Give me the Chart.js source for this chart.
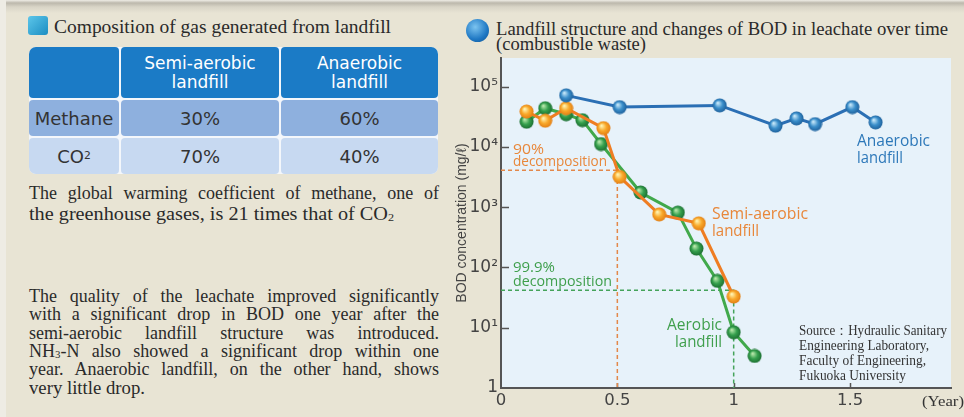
<!DOCTYPE html>
<html>
<head>
<meta charset="utf-8">
<script src="https://cdn.jsdelivr.net/npm/chart.js@4"></script>
<style>
  body { margin:0; width:964px; height:417px; overflow:hidden; background:#e8e4d4; position:relative; font-family:'DejaVu Sans', sans-serif; }
  .abs { position:absolute; white-space:nowrap; }
  .serif { font-family:'Liberation Serif', serif; color:#2a2a2a; }
  .fit { display:inline-block; transform-origin:0 50%; }
  .lab { font-family:'Open Sans', sans-serif; }
  .cell { position:absolute; border-radius:4px; display:flex; align-items:center; justify-content:center; text-align:center; }
  .jl { position:absolute; left:29px; width:410px; text-align:justify; text-align-last:justify; white-space:nowrap; }
  sub { font-size:60%; vertical-align:-1px; line-height:0; }
</style>
</head>
<body>
<!-- top shadow and left strip -->
<div class="abs" style="left:0;top:0;width:964px;height:13px;background:linear-gradient(#efede6 0px,#bcb8ac 3px,#d9d5c7 7px,#e8e4d4 13px);"></div>
<div class="abs" style="left:0;top:0;width:6px;height:417px;background:#eeece4;"></div>

<!-- left panel -->
<div class="abs" style="left:28px;top:16px;width:20px;height:19px;border-radius:3px;background:linear-gradient(135deg,#5cc6ea,#1b8dc2);"></div>
<div class="abs serif fit" data-w="337" style="left:54px;top:16px;font-size:19px;line-height:21px;">Composition of gas generated from landfill</div>

<div class="abs" style="left:29px;top:47px;width:409px;height:127px;background:#f4f7fb;border-radius:7px;">
  <div class="cell" style="left:0;top:0;width:90px;height:51px;background:#1b7bc6;border-top-left-radius:7px;"></div>
  <div class="cell" style="left:92px;top:0;width:158px;height:51px;background:#1b7bc6;color:#fff;font-size:17px;line-height:18.5px;">Semi-aerobic<br>landfill</div>
  <div class="cell" style="left:252px;top:0;width:157px;height:51px;background:#1b7bc6;color:#fff;font-size:17px;line-height:18.5px;border-top-right-radius:7px;">Anaerobic<br>landfill</div>
  <div class="cell" style="left:0;top:53px;width:90px;height:36px;background:#8eb0de;color:#333;font-size:18px;">Methane</div>
  <div class="cell" style="left:92px;top:53px;width:158px;height:36px;background:#8eb0de;color:#333;font-size:18px;">30%</div>
  <div class="cell" style="left:252px;top:53px;width:157px;height:36px;background:#8eb0de;color:#333;font-size:18px;">60%</div>
  <div class="cell" style="left:0;top:91px;width:90px;height:36px;background:#c7d9f1;color:#333;font-size:18px;border-bottom-left-radius:7px;">CO<sub>2</sub></div>
  <div class="cell" style="left:92px;top:91px;width:158px;height:36px;background:#c7d9f1;color:#333;font-size:18px;">70%</div>
  <div class="cell" style="left:252px;top:91px;width:157px;height:36px;background:#c7d9f1;color:#333;font-size:18px;border-bottom-right-radius:7px;">40%</div>
</div>

<div class="serif" style="font-size:18px;line-height:20px;">
  <div class="jl" style="top:183px;">The global warming coefficient of methane, one of</div>
  <div class="abs fit" data-w="365" style="left:29px;top:204px;">the greenhouse gases, is 21 times that of CO<sub>2</sub></div>
</div>
<div class="serif" style="font-size:18px;line-height:18.3px;">
  <div class="jl" style="top:287px;">The quality of the leachate improved significantly</div>
  <div class="jl" style="top:305.3px;">with a significant drop in BOD one year after the</div>
  <div class="jl" style="top:323.6px;">semi-aerobic &nbsp;landfill &nbsp;structure &nbsp;was &nbsp;introduced.</div>
  <div class="jl" style="top:342px;">NH<sub>3</sub>-N also showed a significant drop within one</div>
  <div class="jl" style="top:360.3px;">year. Anaerobic landfill, on the other hand, shows</div>
  <div class="abs fit" data-w="116" style="left:29px;top:378.6px;">very little drop.</div>
</div>

<!-- right panel title -->
<div class="abs" style="left:466px;top:19px;width:23px;height:23px;border-radius:50%;background:radial-gradient(circle at 40% 35%,#7cc4f0,#1f78c4 60%,#11528f);"></div>
<div class="abs serif fit" data-w="452" style="left:496px;top:19px;font-size:19.5px;line-height:20px;">Landfill structure and changes of BOD in leachate over time</div>
<div class="abs serif fit" data-w="150" style="left:496px;top:34px;font-size:19.5px;line-height:20px;">(combustible waste)</div>

<canvas id="bod" width="524" height="369" style="position:absolute;left:440px;top:48px;width:524px;height:369px;"></canvas>

<!-- chart annotations -->
<div class="lab" style="color:#e8873a;">
  <div class="abs fit" data-w="31" style="left:513px;top:140px;font-size:15px;line-height:17px;">90%</div>
  <div class="abs fit" data-w="94" style="left:513px;top:152px;font-size:15px;line-height:17px;">decomposition</div>
  <div class="abs fit" data-w="96" style="left:712px;top:204px;font-size:16px;line-height:18px;">Semi-aerobic</div>
  <div class="abs fit" data-w="47" style="left:712px;top:221px;font-size:16px;line-height:18px;">landfill</div>
</div>
<div class="lab" style="color:#3f9f4c;">
  <div class="abs fit" data-w="42" style="left:513px;top:258px;font-size:15px;line-height:17px;">99.9%</div>
  <div class="abs fit" data-w="99" style="left:513px;top:271.5px;font-size:15px;line-height:17px;">decomposition</div>
  <div class="abs fit" data-w="55" style="left:667px;top:315px;font-size:16px;line-height:18px;">Aerobic</div>
  <div class="abs fit" data-w="47" style="left:675px;top:332px;font-size:16px;line-height:18px;">landfill</div>
</div>
<div class="lab" style="color:#2d78b9;">
  <div class="abs fit" data-w="73" style="left:857px;top:131px;font-size:16px;line-height:18px;">Anaerobic</div>
  <div class="abs fit" data-w="46" style="left:857px;top:148px;font-size:16px;line-height:18px;">landfill</div>
</div>
<div class="serif" style="font-size:14px;line-height:15px;color:#333;">
  <div class="abs fit" data-w="148" style="left:799px;top:322.5px;">Source：Hydraulic Sanitary</div>
  <div class="abs fit" data-w="130" style="left:799px;top:337.8px;">Engineering Laboratory,</div>
  <div class="abs fit" data-w="127" style="left:799px;top:352.8px;">Faculty of Engineering,</div>
  <div class="abs fit" data-w="107" style="left:799px;top:367.8px;">Fukuoka University</div>
</div>
<div class="abs serif fit" data-w="42" style="left:922px;top:393px;font-size:15px;line-height:17px;color:#333;">(Year)</div>

<script>
// values (x in years, y = BOD mg/l)
const yearsAnaerobic = [0.28, 0.51, 0.94, 1.18, 1.27, 1.35, 1.51, 1.61];
const bodAnaerobic   = [72000, 46000, 49000, 22600, 29800, 24000, 46000, 25600];

const yearsSemiAerobic = [0.11, 0.19, 0.28, 0.44, 0.51, 0.68, 0.85, 1.0];
const bodSemiAerobic   = [38800, 27300, 44000, 20600, 3200, 760, 540, 33];

const yearsAerobic = [0.11, 0.19, 0.28, 0.35, 0.43, 0.60, 0.76, 0.84, 0.93, 1.0, 1.09];
const bodAerobic   = [26300, 44000, 35000, 27900, 11200, 1760, 815, 206, 60, 8.4, 3.4];

// 90% and 99.9% decomposition guide levels
const decomp90 = 4100, decomp90Year = 0.5;
const decomp999 = 42, decomp999Year = 1.0;

const yearTicks = [0, 0.5, 1, 1.5];
const bodTicks = [1, 10, 100, 1000, 10000, 100000];
const bodTickLabels = ['1', '10¹', '10²', '10³', '10⁴', '10⁵'];

// stretch text to the widths measured on the picture
document.querySelectorAll('[data-w]').forEach(el => {
  const w = el.getBoundingClientRect().width;
  el.style.transform = 'scaleX(' + (+el.dataset.w / w).toFixed(4) + ')';
});

function pairs(xs, ys) {
  return xs.map((x, i) => ({ x: x, y: ys[i] }));
}

function sphere(light, mid, dark) {
  const c = document.createElement('canvas');
  c.width = c.height = 15;
  const ctx = c.getContext('2d');
  const g = ctx.createRadialGradient(5.5, 5, 0.5, 7.5, 7.5, 7.5);
  g.addColorStop(0, light);
  g.addColorStop(0.5, mid);
  g.addColorStop(1, dark);
  ctx.fillStyle = g;
  ctx.beginPath();
  ctx.arc(7.5, 7.5, 7, 0, Math.PI * 2);
  ctx.fill();
  return c;
}

const plotBg = {
  id: 'plotBg',
  beforeDraw(chart) {
    const a = chart.chartArea, ctx = chart.ctx;
    ctx.save();
    ctx.fillStyle = '#e7f2fa';
    ctx.fillRect(a.left, a.top, a.right - a.left, a.bottom - a.top);
    ctx.restore();
  }
};

// small tick marks pointing into the plot
const innerTicks = {
  id: 'innerTicks',
  beforeDatasetsDraw(chart) {
    const a = chart.chartArea, ctx = chart.ctx;
    const xs = chart.scales.x, ys = chart.scales.y;
    ctx.save();
    ctx.strokeStyle = '#555';
    ctx.lineWidth = 1.5;
    ctx.beginPath();
    bodTicks.slice(1).forEach(v => {
      const y = Math.round(ys.getPixelForValue(v)) + 0.5;
      ctx.moveTo(a.left, y);
      ctx.lineTo(a.left + 8, y);
    });
    yearTicks.slice(1).forEach(v => {
      const x = Math.round(xs.getPixelForValue(v)) + 0.5;
      ctx.moveTo(x, a.bottom);
      ctx.lineTo(x, a.bottom - 5);
    });
    ctx.stroke();
    ctx.restore();
  }
};

const tickFont = { family: 'DejaVu Sans', size: 17 };

new Chart(document.getElementById('bod'), {
  type: 'line',
  data: {
    datasets: [
      {
        label: 'Anaerobic landfill',
        data: pairs(yearsAnaerobic, bodAnaerobic),
        borderColor: '#2b6fb4', borderWidth: 3,
        pointStyle: sphere('#c4e6f8', '#3b8fcb', '#1b5c97'), pointRadius: 7,
        order: 0
      },
      {
        label: 'Semi-aerobic landfill',
        data: pairs(yearsSemiAerobic, bodSemiAerobic),
        borderColor: '#ef7d22', borderWidth: 3,
        pointStyle: sphere('#fff3b0', '#f9a92a', '#e07a12'), pointRadius: 7,
        order: 1
      },
      {
        label: 'Aerobic landfill',
        data: pairs(yearsAerobic, bodAerobic),
        borderColor: '#41a94b', borderWidth: 3,
        pointStyle: sphere('#b8e8aa', '#35a04d', '#1a6a2f'), pointRadius: 7,
        order: 2
      },
      {
        label: '90% decomposition',
        data: [{ x: 0, y: decomp90 }, { x: decomp90Year, y: decomp90 }, { x: decomp90Year, y: 1 }],
        borderColor: '#e3884a', borderWidth: 1.5, borderDash: [4, 3],
        pointRadius: 0, order: 3
      },
      {
        label: '99.9% decomposition',
        data: [{ x: 0, y: decomp999 }, { x: decomp999Year, y: decomp999 }, { x: decomp999Year, y: 1 }],
        borderColor: '#45a35a', borderWidth: 1.5, borderDash: [4, 3],
        pointRadius: 0, order: 3
      }
    ]
  },
  options: {
    responsive: false,
    animation: false,
    layout: { padding: { left: 0, right: 13, top: 7, bottom: 0 } },
    plugins: { legend: { display: false }, tooltip: { enabled: false } },
    scales: {
      x: {
        type: 'linear', min: 0, max: 1.934,
        afterBuildTicks: s => { s.ticks = yearTicks.map(v => ({ value: v })); },
        afterFit: s => { s.height = 29; s.paddingLeft = 0; s.paddingRight = 0; },
        grid: { display: false, drawTicks: false },
        border: { color: '#555', width: 2 },
        ticks: { color: '#444', font: { family: 'DejaVu Sans', size: 16.5 }, padding: 3, maxRotation: 0, autoSkip: false,
                 callback: v => String(v) }
      },
      y: {
        type: 'logarithmic', min: 1, max: 300000,
        afterBuildTicks: s => { s.ticks = bodTicks.map(v => ({ value: v })); },
        afterFit: s => { s.width = 61; s.paddingTop = 0; s.paddingBottom = 0; },
        grid: { display: false, drawTicks: false },
        border: { color: '#555', width: 2 },
        ticks: { color: '#444', font: tickFont, padding: 3, autoSkip: false,
                 callback: v => bodTickLabels[bodTicks.indexOf(v)] },
        title: { display: true, text: 'BOD concentration (mg/ℓ)', color: '#444',
                 font: { family: 'Liberation Sans', size: 14 }, padding: { top: 14, bottom: 0 } }
      }
    }
  },
  plugins: [plotBg, innerTicks]
});
</script>
</body>
</html>
